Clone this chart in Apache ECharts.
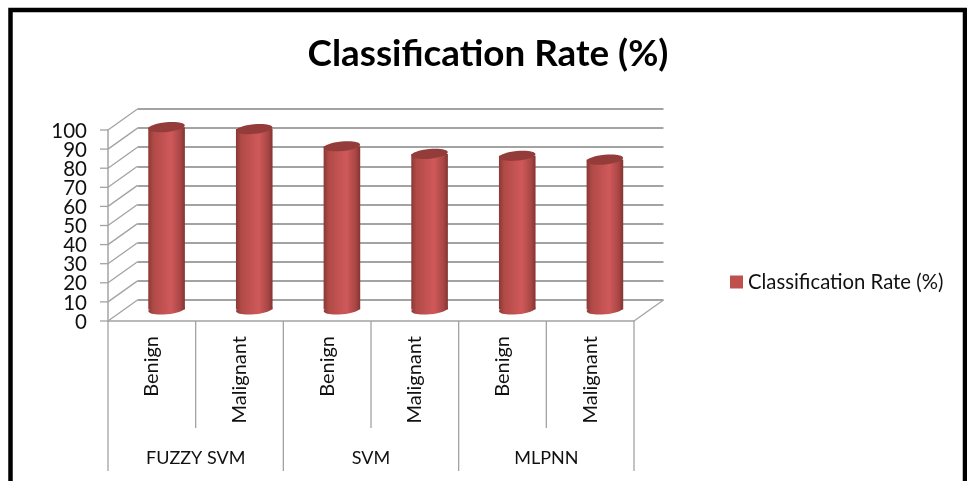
<!DOCTYPE html>
<html>
<head>
<meta charset="utf-8">
<style>html,body{margin:0;padding:0;background:#fff}#chart{width:967px;height:481px}</style>
<script src="https://cdn.jsdelivr.net/npm/echarts@6/dist/echarts.min.js"></script>
</head>
<body>
<div id="chart"></div>
<script>
// Classification rate per classifier and tumour class
const seriesName = 'Classification Rate (%)';
const groups = ['FUZZY SVM', 'SVM', 'MLPNN'];
const classes = ['Benign', 'Malignant', 'Benign', 'Malignant', 'Benign', 'Malignant'];
const rates = [96, 95, 86, 82, 81, 79];
const yTicks = [0, 10, 20, 30, 40, 50, 60, 70, 80, 90, 100];

// Pseudo-3D depth of the chart box, in pixels
const DEPTH_X = 29.5, DEPTH_Y = -21;
// Lengths of the separators under the axis for the two label rows
const ROW1_H = 107, ROW2_H = 150;
const GREY = '#a3a3a3';
const font = 'Lato, "Open Sans", sans-serif';

const chart = echarts.init(document.getElementById('chart'), null, { renderer: 'canvas' });

const bodyFill = new echarts.graphic.LinearGradient(0, 0, 1, 0, [
  { offset: 0, color: '#8a3836' },
  { offset: 0.14, color: '#b04a47' },
  { offset: 0.62, color: '#d0595a' },
  { offset: 0.88, color: '#a84644' },
  { offset: 1, color: '#823432' }
]);

// A cylinder standing halfway between the front and back planes
function renderCylinder(params, api) {
  const base = api.coord([api.value(0), 0]);
  const top = api.coord([api.value(0), api.value(1)]);
  const rx = 18.3, ry = 4.8, tilt = 0.1;
  const cx = base[0] + DEPTH_X / 2;
  const by = base[1] + DEPTH_Y / 2 - 1;
  const ty = top[1] + DEPTH_Y / 2;
  return {
    type: 'group',
    children: [
      { type: 'ellipse', x: cx, y: by, rotation: tilt, shape: { cx: 0, cy: 0, rx: rx, ry: ry }, style: { fill: bodyFill } },
      { type: 'rect', shape: { x: cx - rx, y: ty, width: rx * 2, height: by - ty }, style: { fill: bodyFill } },
      { type: 'ellipse', x: cx, y: ty, rotation: tilt, shape: { cx: 0, cy: 0, rx: rx, ry: ry }, style: { fill: '#943c3a' } }
    ]
  };
}

const lineStyle = { stroke: GREY, lineWidth: 1.3 };

// Tick mark, value label and slanted wall line at each value, plus the floor's right edge.
// The labels are packed tighter than the axis's own overlap check would allow.
function renderWallLine(params, api) {
  const rect = params.coordSys;
  const value = api.value(0);
  const y = api.coord([0, value])[1];
  const children = [
    { type: 'line', shape: { x1: rect.x - 8, y1: y, x2: rect.x, y2: y }, style: lineStyle },
    { type: 'line', shape: { x1: rect.x, y1: y, x2: rect.x + DEPTH_X, y2: y + DEPTH_Y }, style: lineStyle },
    {
      type: 'text', x: rect.x - 21, y: y + 1,
      style: { text: String(value), align: 'right', verticalAlign: 'middle', fontFamily: font, fontSize: 20.5, fill: '#111' }
    }
  ];
  if (value === 0) {
    children.push({
      type: 'line',
      shape: { x1: rect.x + rect.width, y1: y, x2: rect.x + rect.width + DEPTH_X, y2: y + DEPTH_Y },
      style: lineStyle
    });
  }
  return { type: 'group', children: children };
}

// Separators between the category labels; group boundaries run through both rows
function renderSeparator(params, api) {
  const rect = params.coordSys;
  const i = api.value(0);
  const x = rect.x + i * rect.width / classes.length;
  const y = rect.y + rect.height;
  return {
    type: 'line',
    shape: { x1: x, y1: y, x2: x, y2: y + (i % 2 === 0 ? ROW2_H : ROW1_H) },
    style: lineStyle
  };
}

chart.setOption({
  animation: false,
  backgroundColor: '#fff',
  title: {
    text: seriesName,
    left: 483, top: 31, textAlign: 'center',
    textStyle: { fontFamily: font, fontWeight: 'bold', fontSize: 36.8, color: '#000' }
  },
  legend: {
    data: [seriesName],
    orient: 'vertical',
    left: 730, top: 272, padding: 0,
    itemWidth: 13, itemHeight: 13, itemGap: 0,
    icon: 'rect',
    textStyle: { fontFamily: font, fontSize: 20.3, color: '#111' }
  },
  graphic: [{
    type: 'rect', silent: true,
    shape: { x: 10.5, y: 10, width: 954.5, height: 490 },
    style: { fill: 'none', stroke: '#000', lineWidth: 4.5 }
  }],
  grid: [
    { left: 108 + DEPTH_X, width: 526, top: 130 + DEPTH_Y, height: 191 },
    { left: 108, width: 526, top: 130, height: 191 }
  ],
  xAxis: [
    { gridIndex: 0, type: 'category', data: classes, show: false },
    {
      gridIndex: 1, type: 'category', data: classes, position: 'bottom',
      axisLine: { onZero: false, lineStyle: { color: GREY, width: 1.5 } },
      axisTick: { show: false },
      axisLabel: { rotate: 90, margin: 15, interval: 0, fontFamily: font, fontSize: 20, color: '#111' }
    },
    {
      gridIndex: 1, type: 'category', data: groups, position: 'bottom', offset: 107,
      axisLine: { show: false },
      axisTick: { show: false },
      axisLabel: { margin: 21, interval: 0, fontFamily: font, fontSize: 18, color: '#111' }
    }
  ],
  yAxis: [
    {
      gridIndex: 0, type: 'value', min: 0, max: 100, interval: 10,
      axisLine: { show: false }, axisTick: { show: false }, axisLabel: { show: false },
      splitLine: { show: true, lineStyle: { color: GREY, width: 1.8 } }
    },
    {
      gridIndex: 1, type: 'value', min: 0, max: 100, interval: 10,
      axisLine: { show: true, lineStyle: { color: GREY, width: 1.5 } },
      axisTick: { show: false },
      axisLabel: { show: false },
      splitLine: { show: false }
    }
  ],
  series: [
    {
      type: 'custom', name: 'wall', xAxisIndex: 1, yAxisIndex: 1, silent: true,
      data: yTicks, encode: { y: 0 }, renderItem: renderWallLine, z: 1
    },
    {
      type: 'custom', name: 'separators', xAxisIndex: 1, yAxisIndex: 1, silent: true,
      data: [0, 1, 2, 3, 4, 5, 6], encode: { x: 0 }, renderItem: renderSeparator, z: 1
    },
    {
      type: 'custom', name: seriesName, xAxisIndex: 1, yAxisIndex: 1,
      itemStyle: { color: '#c0504d' },
      data: rates.map((r, i) => [i, r]),
      encode: { x: 0, y: 1 }, renderItem: renderCylinder, z: 3
    }
  ]
});
</script>
</body>
</html>
